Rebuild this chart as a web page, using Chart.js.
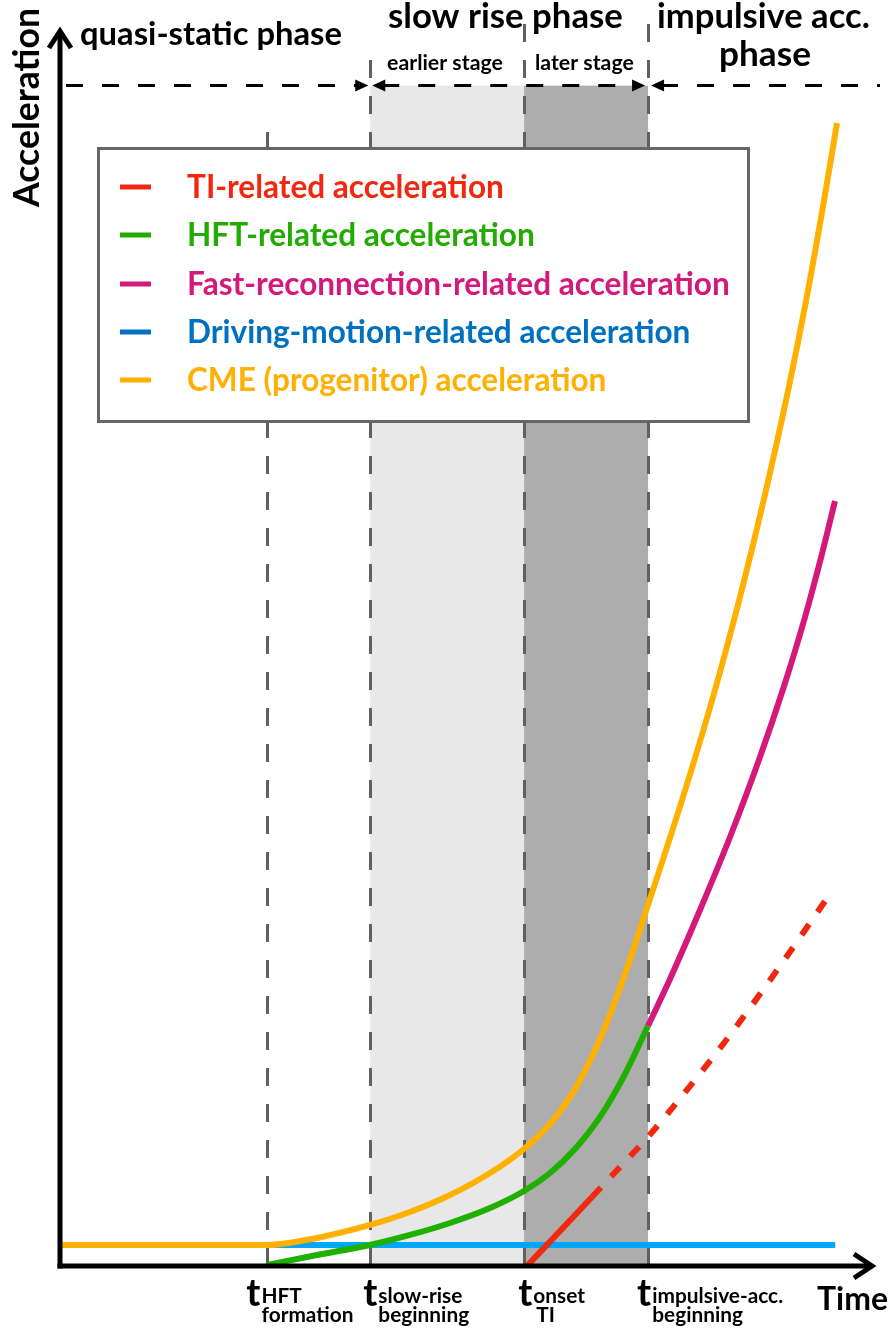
<!DOCTYPE html>
<html>
<head>
<meta charset="utf-8">
<script src="https://cdn.jsdelivr.net/npm/chart.js@4.4.0/dist/chart.umd.min.js"></script>
<style>
  html, body { margin: 0; padding: 0; background: #fff; }
  canvas { display: block; }
</style>
</head>
<body>
<canvas id="graficaFases" width="894" height="1331"></canvas>
<script>
// time axis runs 0-100, acceleration axis 0-100 (arbitrary units)
const phaseTimes = [25.6, 38.3, 57.3, 72.6];
const tickMain = ['t', 't', 't', 't'];
const tickSub = [['HFT', 'formation'], ['slow-rise', 'beginning'], ['onset', 'TI'], ['impulsive-acc.', 'beginning']];
const headerLevel = 95.5;

const legendLabels = [
  'TI-related acceleration',
  'HFT-related acceleration',
  'Fast-reconnection-related acceleration',
  'Driving-motion-related acceleration',
  'CME (progenitor) acceleration'
];
const legendColors = ['#f02810', '#22ab00', '#d4197a', '#0070c0', '#ffb000'];

// curves
const tiTime = [57.65, 61.73, 65.68, 69.14, 72.59, 77.78, 82.72, 88.89, 95.06];
const tiAcc = [0.0, 2.83, 5.58, 8.01, 10.44, 14.56, 18.69, 24.27, 30.1];
const tiSolidEnd = 65.6;

const hftTime = [25.56, 31.73, 38.27, 43.21, 48.15, 53.09, 57.28, 60.49, 63.58, 66.67, 69.75, 72.59];
const hftAcc = [0.08, 0.89, 1.70, 2.51, 3.48, 4.69, 6.07, 7.52, 9.47, 12.06, 15.53, 19.42];

const fastTime = [72.59, 75.31, 79.01, 82.72, 86.42, 89.51, 91.98, 94.07, 95.68];
const fastAcc = [19.42, 23.22, 28.8, 34.71, 41.18, 47.17, 52.51, 57.61, 61.89];

const driveTime = [0.2, 95.7];
const driveAcc = [1.7, 1.7];

const cmeTime = [0.25, 25.56, 31.73, 38.27, 43.21, 48.15, 53.09, 57.28, 60.49, 63.58, 66.67, 69.75, 72.59, 76.91, 80.62, 83.95, 86.91, 89.75, 92.22, 94.44, 95.93];
const cmeAcc = [1.70, 1.70, 2.27, 3.32, 4.37, 5.74, 7.52, 9.47, 11.49, 14.32, 18.37, 23.62, 29.21, 37.94, 46.04, 54.13, 62.06, 70.39, 78.48, 86.65, 92.48];

const FONT = 'Lato';
const toXY = (xs, ys) => xs.map((v, i) => ({ x: v, y: ys[i] }));

function fitSize(ctx, text, width) {
  ctx.font = `bold 100px ${FONT}`;
  return 100 * width / ctx.measureText(text).width;
}

function texto(ctx, s, x, y, size, color, align) {
  ctx.font = `bold ${size}px ${FONT}`;
  ctx.fillStyle = color || '#000';
  ctx.textAlign = align || 'left';
  ctx.textBaseline = 'alphabetic';
  ctx.fillText(s, x, y);
}

function dashedArrow(ctx, x1, x2, yy, leftHead, rightHead) {
  ctx.save();
  ctx.strokeStyle = '#000';
  ctx.fillStyle = '#000';
  ctx.lineWidth = 3;
  ctx.setLineDash([17, 19]);
  ctx.beginPath();
  ctx.moveTo(x1 + (leftHead ? 10 : 0), yy);
  ctx.lineTo(x2 - (rightHead ? 10 : 0), yy);
  ctx.stroke();
  ctx.setLineDash([]);
  if (rightHead) {
    ctx.beginPath();
    ctx.moveTo(x2, yy); ctx.lineTo(x2 - 13, yy - 6); ctx.lineTo(x2 - 13, yy + 6);
    ctx.closePath(); ctx.fill();
  }
  if (leftHead) {
    ctx.beginPath();
    ctx.moveTo(x1, yy); ctx.lineTo(x1 + 13, yy - 6); ctx.lineTo(x1 + 13, yy + 6);
    ctx.closePath(); ctx.fill();
  }
  ctx.restore();
}

const fondoFases = {
  id: 'fondoFases',
  beforeDatasetsDraw(chart) {
    const { ctx, scales: { x, y } } = chart;
    const top = y.getPixelForValue(headerLevel);
    const bottom = y.getPixelForValue(0);
    ctx.save();
    // shaded stages of the slow rise phase
    ctx.fillStyle = '#e8e8e8';
    ctx.fillRect(x.getPixelForValue(phaseTimes[1]), top, x.getPixelForValue(phaseTimes[2]) - x.getPixelForValue(phaseTimes[1]), bottom - top);
    ctx.fillStyle = '#adadad';
    ctx.fillRect(x.getPixelForValue(phaseTimes[2]), top, x.getPixelForValue(phaseTimes[3]) - x.getPixelForValue(phaseTimes[2]), bottom - top);
    // vertical dashed markers
    const tops = [117, 48, 8, 8];
    ctx.strokeStyle = '#606060';
    ctx.lineWidth = 3;
    ctx.setLineDash([18, 18]);
    phaseTimes.forEach((t, i) => {
      const xx = Math.round(x.getPixelForValue(t)) + 0.5;
      ctx.beginPath();
      ctx.moveTo(xx, bottom);
      ctx.lineTo(xx, tops[i]);
      ctx.stroke();
    });
    ctx.restore();
  },
  afterDatasetsDraw(chart) {
    const { ctx, chartArea, scales: { x, y } } = chart;
    const x0 = x.getPixelForValue(0);
    const y0 = y.getPixelForValue(0);
    ctx.save();
    ctx.strokeStyle = '#000';
    ctx.lineWidth = 5;
    ctx.lineCap = 'butt';
    ctx.lineJoin = 'miter';
    // y axis
    ctx.beginPath();
    ctx.moveTo(x0, y0 + 2.5);
    ctx.lineTo(x0, chartArea.top + 2);
    ctx.stroke();
    ctx.beginPath();
    ctx.moveTo(x0 - 11, chartArea.top + 18);
    ctx.lineTo(x0, chartArea.top + 1);
    ctx.lineTo(x0 + 11, chartArea.top + 18);
    ctx.stroke();
    // x axis
    ctx.beginPath();
    ctx.moveTo(x0 - 2.5, y0);
    ctx.lineTo(chartArea.right + 1, y0);
    ctx.stroke();
    ctx.beginPath();
    ctx.moveTo(chartArea.right - 16, y0 - 12);
    ctx.lineTo(chartArea.right + 2, y0);
    ctx.lineTo(chartArea.right - 16, y0 + 12);
    ctx.stroke();
    ctx.restore();
  },
  afterDraw(chart) {
    const { ctx, scales: { x, y } } = chart;
    const hy = y.getPixelForValue(headerLevel);
    const b = phaseTimes.map(t => x.getPixelForValue(t));
    ctx.save();

    // header arrows
    dashedArrow(ctx, x.getPixelForValue(0) + 6, b[1] - 2, hy, false, true);
    dashedArrow(ctx, b[1] + 2, b[3] - 3, hy, true, true);
    dashedArrow(ctx, b[3] + 3, 880, hy, true, false);

    // phase labels
    texto(ctx, 'quasi-static phase', 80, 45, fitSize(ctx, 'quasi-static phase', 262));
    texto(ctx, 'slow rise phase', 388, 28, fitSize(ctx, 'slow rise phase', 235));
    texto(ctx, 'impulsive acc.', 657, 28, fitSize(ctx, 'impulsive acc.', 213));
    texto(ctx, 'phase', 719, 66, fitSize(ctx, 'phase', 92));
    const stageSize = fitSize(ctx, 'earlier stage', 116);
    texto(ctx, 'earlier stage', 387, 70, stageSize);
    texto(ctx, 'later stage', 535, 70, stageSize);

    // axis titles
    texto(ctx, 'Time', 817, 1310, fitSize(ctx, 'Time', 71));
    ctx.save();
    ctx.translate(39, 207);
    ctx.rotate(-Math.PI / 2);
    texto(ctx, 'Acceleration', 0, 0, fitSize(ctx, 'Acceleration', 199));
    ctx.restore();

    // time markers
    const tOffsets = [-21, -7, -6, -11];
    const subSize = fitSize(ctx, 'formation', 92);
    phaseTimes.forEach((t, i) => {
      const tx = b[i] + tOffsets[i];
      texto(ctx, tickMain[i], tx, 1306, 38);
      const w = ctx.measureText(tickMain[i]).width;
      texto(ctx, tickSub[i][0], tx + w + 1, 1303, subSize);
      texto(ctx, tickSub[i][1], tx + w + 1 + (i === 2 ? 3 : 0), 1322, subSize);
    });

    // legend box
    ctx.fillStyle = '#fff';
    ctx.fillRect(97, 147, 653, 276);
    ctx.strokeStyle = '#666';
    ctx.lineWidth = 3;
    ctx.strokeRect(98.5, 148.5, 650, 273);
    const legSize = fitSize(ctx, legendLabels[2], 543);
    const rows = [187, 235, 284, 332, 380];
    legendLabels.forEach((lab, i) => {
      ctx.strokeStyle = legendColors[i];
      ctx.lineWidth = 5;
      ctx.beginPath();
      ctx.moveTo(120, rows[i]);
      ctx.lineTo(151, rows[i]);
      ctx.stroke();
      texto(ctx, lab, 187, rows[i] + legSize * 0.35, legSize, legendColors[i]);
    });
    ctx.restore();
  }
};

const ctxFases = document.getElementById('graficaFases').getContext('2d');
new Chart(ctxFases, {
  type: 'line',
  data: {
    datasets: [
      {
        label: legendLabels[4],
        data: toXY(cmeTime, cmeAcc),
        borderColor: '#ffb000',
        borderWidth: 6,
        cubicInterpolationMode: 'monotone',
        order: 1
      },
      {
        label: legendLabels[1],
        data: toXY(hftTime, hftAcc),
        borderColor: '#1fb000',
        borderWidth: 6,
        cubicInterpolationMode: 'monotone',
        order: 2
      },
      {
        label: legendLabels[2],
        data: toXY(fastTime, fastAcc),
        borderColor: '#d4197a',
        borderWidth: 6,
        cubicInterpolationMode: 'monotone',
        order: 3
      },
      {
        label: legendLabels[0],
        data: toXY(tiTime, tiAcc),
        borderColor: '#f0280f',
        borderWidth: 6,
        cubicInterpolationMode: 'monotone',
        segment: {
          borderDash: c => (c.p0.parsed.x >= tiSolidEnd ? [13, 15] : undefined)
        },
        order: 4
      },
      {
        label: legendLabels[3],
        data: toXY(driveTime, driveAcc),
        borderColor: '#00a6ff',
        borderWidth: 6,
        order: 5
      }
    ]
  },
  options: {
    responsive: false,
    animation: false,
    events: [],
    layout: { padding: { left: 60, right: 24, top: 30, bottom: 65 } },
    elements: {
      point: { radius: 0 },
      line: { borderCapStyle: 'butt', fill: false }
    },
    datasets: { line: { clip: false } },
    scales: {
      x: { type: 'linear', min: 0, max: 100, display: false },
      y: { type: 'linear', min: 0, max: 100, display: false }
    },
    plugins: {
      legend: { display: false },
      tooltip: { enabled: false }
    }
  },
  plugins: [fondoFases]
});
</script>
</body>
</html>
